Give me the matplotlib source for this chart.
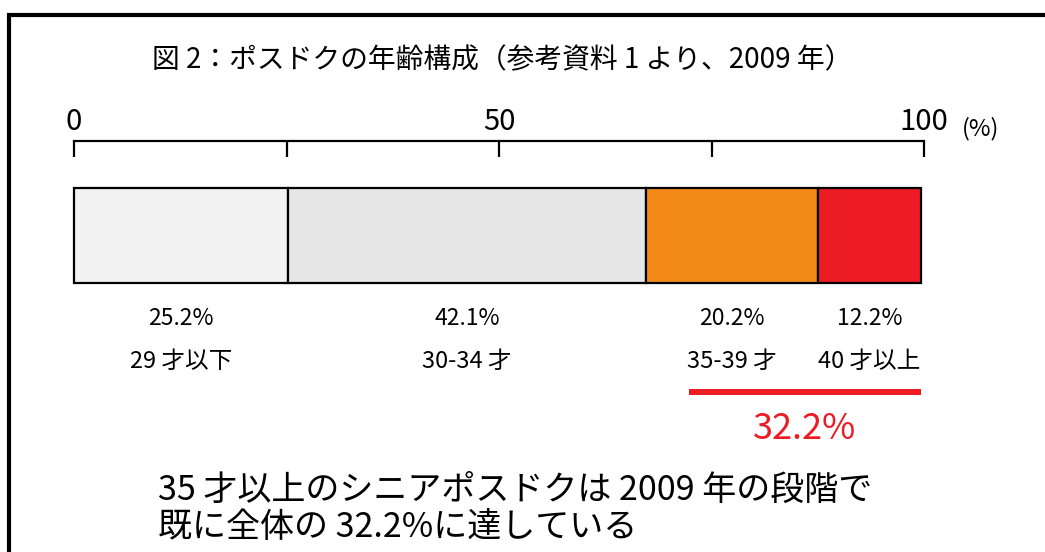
import matplotlib.pyplot as plt
from matplotlib.lines import Line2D
import numpy as np

plt.rcParams['font.family'] = ['Noto Sans CJK JP', 'DejaVu Sans']

# data
age_groups = ['29 才以下', '30-34 才', '35-39 才', '40 才以上']
shares = [25.2, 42.1, 20.2, 12.2]
share_labels = ['25.2%', '42.1%', '20.2%', '12.2%']
colors = ['#f2f2f2', '#e6e6e6', '#f38a17', '#ed1c24']
major_ticks = [0, 50, 100]
minor_ticks = [25, 75]
senior_label = '32.2%'

W, H = 1045, 552


def fx(px):
    return px / W


def fy(py):
    return 1 - py / H


fig = plt.figure(figsize=(W / 100, H / 100), dpi=100)

# frame (top + left only)
fig.add_artist(Line2D([fx(7), 1.0], [fy(14.5), fy(14.5)], color='black', lw=3, solid_capstyle='butt'))
fig.add_artist(Line2D([fx(9), fx(9)], [fy(13), 0], color='black', lw=3, solid_capstyle='butt'))

fig.text(fx(502), fy(60), '図 2：ポスドクの年齢構成（参考資料 1 より、2009 年）',
         ha='center', va='center', fontsize=20)

ax = fig.add_axes([fx(74), fy(283), fx(924) - fx(74), (283 - 141) / H])
ax.set_xlim(0, 100)
ax.set_ylim(0, 1)

lefts = np.concatenate([[0], np.cumsum(shares)[:-1]])
bar_h = 95 / 142
ax.barh(0, shares, left=lefts, height=bar_h, align='edge', color=colors,
        edgecolor='black', linewidth=1.6, clip_on=False)

# ruler on top
for s in ['left', 'right', 'bottom']:
    ax.spines[s].set_visible(False)
ax.spines['top'].set_linewidth(1.6)
ax.xaxis.tick_top()
ax.set_xticks(major_ticks)
ax.set_xticks(minor_ticks, minor=True)
ax.set_xticklabels([str(t) for t in major_ticks], fontsize=21)
ax.tick_params(axis='x', which='both', direction='in', length=11.5, width=1.6, pad=3)
ax.set_yticks([])
fig.text(fx(981), fy(129), '(%)', ha='center', va='center', fontsize=17)

# labels under each segment
centers = lefts + np.array(shares) / 2
tr = ax.get_xaxis_transform()
for c, pct, name in zip(centers, share_labels, age_groups):
    ax.text(c, (283 - 319) / 142, pct, transform=tr, ha='center', va='center', fontsize=16.5)
    ax.text(c, (283 - 361) / 142, name, transform=tr, ha='center', va='center', fontsize=17)

# senior bracket
senior_start = lefts[2] + 5
senior_end = sum(shares)
ax.plot([senior_start, senior_end], [(283 - 392) / 142] * 2, transform=tr,
        color='#ed1c24', lw=4.3, solid_capstyle='butt', clip_on=False)
ax.text((senior_start + senior_end) / 2, (283 - 429) / 142, senior_label, transform=tr,
        ha='center', va='center', fontsize=26, color='#ed1c24')

fig.text(fx(158), fy(490), '35 才以上のシニアポスドクは 2009 年の段階で',
         ha='left', va='center', fontsize=24.5)
fig.text(fx(158), fy(527), '既に全体の 32.2%に達している',
         ha='left', va='center', fontsize=24.5)

fig.savefig('out.png', dpi=100)
